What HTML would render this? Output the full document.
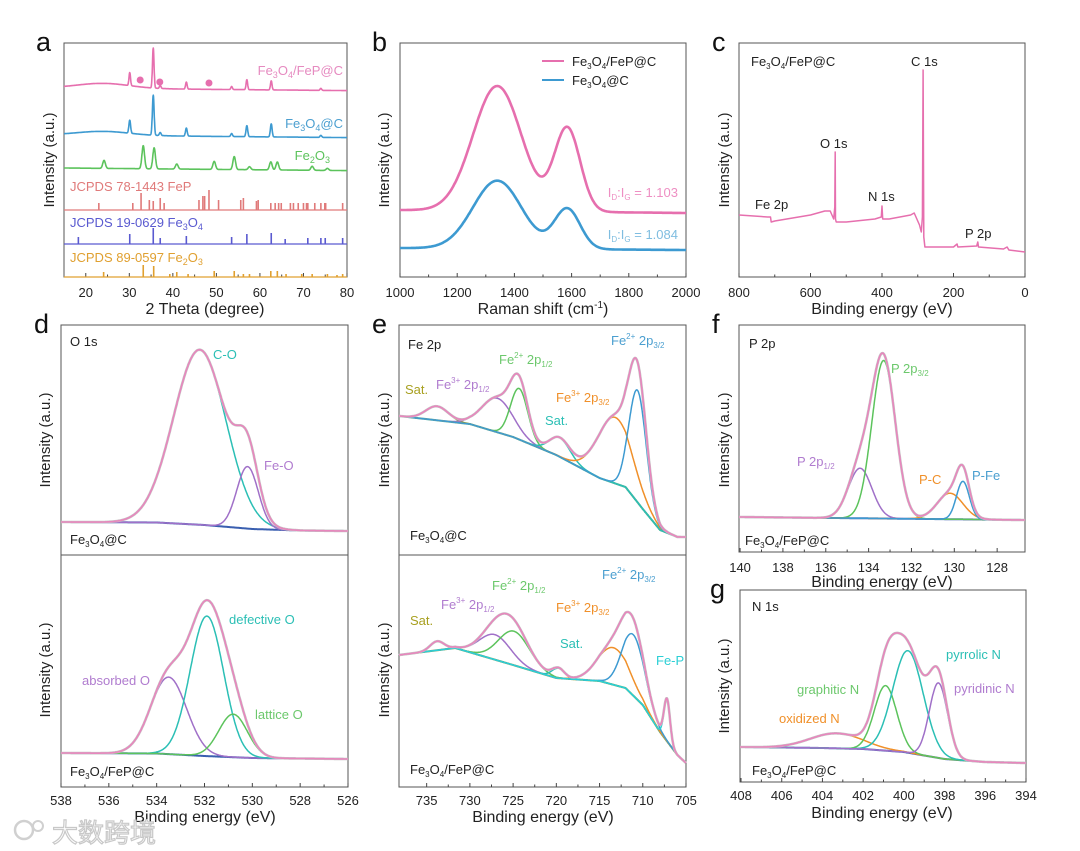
<!DOCTYPE html>
<html><head><meta charset="utf-8"><title>Figure</title>
<style>
html,body{margin:0;padding:0;background:#fff;}
svg{display:block;font-family:"Liberation Sans","Noto Sans CJK SC",sans-serif;}
.tl{font-size:13px;fill:#222;text-anchor:middle;}
.at{font-size:16px;fill:#222;text-anchor:middle;}
.yt{font-size:15px;fill:#222;text-anchor:middle;}
.pl{font-size:27px;fill:#111;}
.lb{font-size:13px;}
</style></head>
<body>
<svg id="fig" width="1080" height="851" viewBox="0 0 1080 851" xmlns="http://www.w3.org/2000/svg">
<rect x="0" y="0" width="1080" height="851" fill="#fff"/>
<text class="pl" x="36" y="51">a</text>
<text class="pl" x="372" y="51">b</text>
<text class="pl" x="712" y="51">c</text>
<text class="pl" x="34" y="333">d</text>
<text class="pl" x="372" y="333">e</text>
<text class="pl" x="712" y="333">f</text>
<text class="pl" x="710" y="598">g</text>

<text class="yt" transform="translate(54,160) rotate(-90)">Intensity (a.u.)</text>
<text class="yt" transform="translate(389,160) rotate(-90)">Intensity (a.u.)</text>
<text class="yt" transform="translate(729,160) rotate(-90)">Intensity (a.u.)</text>
<text class="yt" transform="translate(50,440) rotate(-90)">Intensity (a.u.)</text>
<text class="yt" transform="translate(50,670) rotate(-90)">Intensity (a.u.)</text>
<text class="yt" transform="translate(389,440) rotate(-90)">Intensity (a.u.)</text>
<text class="yt" transform="translate(389,670) rotate(-90)">Intensity (a.u.)</text>
<text class="yt" transform="translate(729,440) rotate(-90)">Intensity (a.u.)</text>
<text class="yt" transform="translate(729,686) rotate(-90)">Intensity (a.u.)</text>

<text class="at" x="205" y="314">2 Theta (degree)</text>
<text class="at" x="543" y="314">Raman shift (cm<tspan dy="-6" font-size="10">-1</tspan><tspan dy="6">)</tspan></text>
<text class="at" x="882" y="314">Binding energy (eV)</text>
<text class="at" x="205" y="822">Binding energy (eV)</text>
<text class="at" x="543" y="822">Binding energy (eV)</text>
<text class="at" x="882" y="587">Binding energy (eV)</text>
<text class="at" x="882" y="818">Binding energy (eV)</text>

<text class="lb" x="343" y="75" text-anchor="end" fill="#e68ac0" font-size="14">Fe<tspan font-size="9" dy="3">3</tspan><tspan dy="-3">O</tspan><tspan font-size="9" dy="3">4</tspan><tspan dy="-3">/FeP@C</tspan></text>
<text class="lb" x="343" y="128" text-anchor="end" fill="#4b9fd0" font-size="14">Fe<tspan font-size="9" dy="3">3</tspan><tspan dy="-3">O</tspan><tspan font-size="9" dy="3">4</tspan><tspan dy="-3">@C</tspan></text>
<text class="lb" x="330" y="160" text-anchor="end" fill="#5cc35c" font-size="14">Fe<tspan font-size="9" dy="3">2</tspan><tspan dy="-3">O</tspan><tspan font-size="9" dy="3">3</tspan></text>
<text class="lb" x="70" y="191" fill="#e07a7a" font-size="14">JCPDS 78-1443  FeP</text>
<text class="lb" x="70" y="227" fill="#5a5ad0" font-size="14">JCPDS 19-0629  Fe<tspan font-size="9" dy="3">3</tspan><tspan dy="-3">O</tspan><tspan font-size="9" dy="3">4</tspan></text>
<text class="lb" x="70" y="262" fill="#e0a030" font-size="14">JCPDS 89-0597 Fe<tspan font-size="9" dy="3">2</tspan><tspan dy="-3">O</tspan><tspan font-size="9" dy="3">3</tspan></text>

<line x1="542" y1="61" x2="564" y2="61" stroke="#e66fae" stroke-width="2"/>
<text class="lb" x="572" y="66" fill="#222">Fe<tspan font-size="8" dy="3">3</tspan><tspan dy="-3">O</tspan><tspan font-size="8" dy="3">4</tspan><tspan dy="-3">/FeP@C</tspan></text>
<line x1="542" y1="80" x2="564" y2="80" stroke="#3d9ad1" stroke-width="2"/>
<text class="lb" x="572" y="85" fill="#222">Fe<tspan font-size="8" dy="3">3</tspan><tspan dy="-3">O</tspan><tspan font-size="8" dy="3">4</tspan><tspan dy="-3">@C</tspan></text>
<text class="lb" x="678" y="197" text-anchor="end" fill="#ee8fc3">I<tspan font-size="8" dy="3">D</tspan><tspan dy="-3">:I</tspan><tspan font-size="8" dy="3">G</tspan><tspan dy="-3"> = 1.103</tspan></text>
<text class="lb" x="678" y="239" text-anchor="end" fill="#7fbde0">I<tspan font-size="8" dy="3">D</tspan><tspan dy="-3">:I</tspan><tspan font-size="8" dy="3">G</tspan><tspan dy="-3"> = 1.084</tspan></text>

<text class="lb" x="751" y="66" fill="#222">Fe<tspan font-size="8" dy="3">3</tspan><tspan dy="-3">O</tspan><tspan font-size="8" dy="3">4</tspan><tspan dy="-3">/FeP@C</tspan></text>
<text class="lb" x="911" y="66" fill="#222">C 1s</text>
<text class="lb" x="820" y="148" fill="#222">O 1s</text>
<text class="lb" x="868" y="201" fill="#222">N 1s</text>
<text class="lb" x="755" y="209" fill="#222">Fe 2p</text>
<text class="lb" x="965" y="238" fill="#222">P 2p</text>

<text class="lb" x="70" y="346" fill="#222">O 1s</text>
<text class="lb" x="213" y="359" fill="#2bbfb5">C-O</text>
<text class="lb" x="264" y="470" fill="#b07ccf">Fe-O</text>
<text class="lb" x="70" y="544" fill="#222">Fe<tspan font-size="8" dy="3">3</tspan><tspan dy="-3">O</tspan><tspan font-size="8" dy="3">4</tspan><tspan dy="-3">@C</tspan></text>
<text class="lb" x="229" y="624" fill="#2bbfb5">defective O</text>
<text class="lb" x="82" y="685" fill="#b07ccf">absorbed O</text>
<text class="lb" x="255" y="719" fill="#6cc86c">lattice O</text>
<text class="lb" x="70" y="776" fill="#222">Fe<tspan font-size="8" dy="3">3</tspan><tspan dy="-3">O</tspan><tspan font-size="8" dy="3">4</tspan><tspan dy="-3">/FeP@C</tspan></text>

<text class="lb" x="408" y="349" fill="#222">Fe 2p</text>
<text class="lb" x="611" y="345" fill="#4b9fd0">Fe<tspan font-size="8" dy="-6">2+</tspan><tspan dy="6"> 2p</tspan><tspan font-size="8" dy="3">3/2</tspan></text>
<text class="lb" x="499" y="364" fill="#6cc86c">Fe<tspan font-size="8" dy="-6">2+</tspan><tspan dy="6"> 2p</tspan><tspan font-size="8" dy="3">1/2</tspan></text>
<text class="lb" x="436" y="389" fill="#b07ccf">Fe<tspan font-size="8" dy="-6">3+</tspan><tspan dy="6"> 2p</tspan><tspan font-size="8" dy="3">1/2</tspan></text>
<text class="lb" x="405" y="394" fill="#a8a020">Sat.</text>
<text class="lb" x="556" y="402" fill="#f0902a">Fe<tspan font-size="8" dy="-6">3+</tspan><tspan dy="6"> 2p</tspan><tspan font-size="8" dy="3">3/2</tspan></text>
<text class="lb" x="545" y="425" fill="#2bbfb5">Sat.</text>
<text class="lb" x="410" y="540" fill="#222">Fe<tspan font-size="8" dy="3">3</tspan><tspan dy="-3">O</tspan><tspan font-size="8" dy="3">4</tspan><tspan dy="-3">@C</tspan></text>
<text class="lb" x="602" y="579" fill="#4b9fd0">Fe<tspan font-size="8" dy="-6">2+</tspan><tspan dy="6"> 2p</tspan><tspan font-size="8" dy="3">3/2</tspan></text>
<text class="lb" x="492" y="590" fill="#6cc86c">Fe<tspan font-size="8" dy="-6">2+</tspan><tspan dy="6"> 2p</tspan><tspan font-size="8" dy="3">1/2</tspan></text>
<text class="lb" x="441" y="609" fill="#b07ccf">Fe<tspan font-size="8" dy="-6">3+</tspan><tspan dy="6"> 2p</tspan><tspan font-size="8" dy="3">1/2</tspan></text>
<text class="lb" x="556" y="612" fill="#f0902a">Fe<tspan font-size="8" dy="-6">3+</tspan><tspan dy="6"> 2p</tspan><tspan font-size="8" dy="3">3/2</tspan></text>
<text class="lb" x="410" y="625" fill="#a8a020">Sat.</text>
<text class="lb" x="560" y="648" fill="#2bbfb5">Sat.</text>
<text class="lb" x="656" y="665" fill="#2bcfd5">Fe-P</text>
<text class="lb" x="410" y="774" fill="#222">Fe<tspan font-size="8" dy="3">3</tspan><tspan dy="-3">O</tspan><tspan font-size="8" dy="3">4</tspan><tspan dy="-3">/FeP@C</tspan></text>

<text class="lb" x="749" y="348" fill="#222">P 2p</text>
<text class="lb" x="891" y="373" fill="#6cc86c">P 2p<tspan font-size="8" dy="3">3/2</tspan></text>
<text class="lb" x="797" y="466" fill="#b07ccf">P 2p<tspan font-size="8" dy="3">1/2</tspan></text>
<text class="lb" x="919" y="484" fill="#f0902a">P-C</text>
<text class="lb" x="972" y="480" fill="#4b9fd0">P-Fe</text>
<text class="lb" x="745" y="545" fill="#222">Fe<tspan font-size="8" dy="3">3</tspan><tspan dy="-3">O</tspan><tspan font-size="8" dy="3">4</tspan><tspan dy="-3">/FeP@C</tspan></text>

<text class="lb" x="752" y="611" fill="#222">N 1s</text>
<text class="lb" x="946" y="659" fill="#2bbfb5">pyrrolic N</text>
<text class="lb" x="954" y="693" fill="#b07ccf">pyridinic N</text>
<text class="lb" x="797" y="694" fill="#6cc86c">graphitic N</text>
<text class="lb" x="779" y="723" fill="#f0902a">oxidized N</text>
<text class="lb" x="752" y="775" fill="#222">Fe<tspan font-size="8" dy="3">3</tspan><tspan dy="-3">O</tspan><tspan font-size="8" dy="3">4</tspan><tspan dy="-3">/FeP@C</tspan></text>

<g>
<circle cx="24" cy="830" r="9" fill="none" stroke="#d0d0d0" stroke-width="2.5"/>
<circle cx="38" cy="826" r="5" fill="none" stroke="#d0d0d0" stroke-width="2"/>
<text x="52" y="842" font-size="26" fill="#fff" stroke="#c8c8c8" stroke-width="1.2">大数跨境</text>
</g>
</svg>
<script>
// panel a (XRD), intensity units above axis bottom
const aTicks=[20,30,40,50,60,70,80];
const aPinkBase=189, aBlueBase=142, aGreenBase=109;
const aPinkPos=[30.1,35.5,37.1,43.1,53.5,57.0,62.6,74.0];
const aPinkH=[13,40,3,7,3,10,9,2];
const aBluePos=[30.1,35.5,37.1,43.1,53.5,57.0,62.6,74.0];
const aBlueH=[13,40,3,8,3,11,13,2];
const aGreenPos=[24.2,33.2,35.7,40.9,49.5,54.1,57.6,62.5,64.0,72.0,75.5];
const aGreenH=[8,23,21,5,8,13,3,8,8,4,2];
const aDotPos=[32.5,37.0,48.3];
const aDotU=[197,195,194];
const aFePPos=[23,30.8,32.7,34.6,35.5,37.1,38,46,46.9,47.3,48.3,50.5,55.6,56.2,59.2,59.6,62.5,63.5,64.3,64.9,67,67.7,68.8,70,70.7,71,72.6,74,74.9,75.1,79];
const aFePH=[7,7,17,10,9,12,7,10,14,14,20,10,10,12,9,10,7,7,7,7,7,7,7,7,7,7,7,7,7,7,7];
const aFe3O4Pos=[18.3,30.1,35.5,37.1,43.1,53.5,57,62.6,65.8,71,74,75,79];
const aFe3O4H=[7,10,16,6,8,7,10,11,5,6,6,6,6];
const aFe2O3Pos=[24.1,33.2,35.6,39.3,40.9,43.5,49.5,54.1,56.2,57.6,62.5,64,66,69.6,72,75.5,77.7,79];
const aFe2O3H=[5,12,11,3,5,3,6,6,3,3,6,6,3,3,3,3,2,3];
// panel b (Raman)
const bTicks=[1000,1200,1400,1600,1800,2000];
const bPeakPos=[1340,1585];
const bPeakSig=[85,45];
const bPinkBase=[67,64];
const bPinkAmp=[125,83];
const bBlueBase=[29,27];
const bBlueAmp=[68,40];
// panel c (survey)
const cTicks=[800,600,400,200,0];
const cE=[800,720,712,710,700,600,560,545,535,532,531,530,528,500,420,402,400,398,380,320,310,295,290,287,285,283,280,250,200,190,188,135,132,130,60,50,45,0];
const cU=[62,60,60,55,56,62,66,66,58,70,125,58,55,55,58,60,71,58,58,62,64,52,45,60,207,40,30,30,30,33,30,31,35,30,28,30,27,25];
// panel d (O 1s)
const dTicks=[538,536,534,532,530,528,526];
const dTopBgE=[538,534,532,530,528,526];
const dTopBgU=[33,32.5,30,26,24.5,24];
const dTopPos=[532.2,530.2];
const dTopAmp=[175,62];
const dTopSig=[1.1,0.45];
const dBotBgE=[538,534,532,530,526];
const dBotBgU=[34,33.5,31,29,28];
const dBotPos=[533.5,531.9,530.8];
const dBotAmp=[77,140,43];
const dBotSig=[0.75,0.7,0.6];
// panel e (Fe 2p)
const eTicks=[735,730,725,720,715,710,705];
const eTopBgE=[738.2,730,725,720,715,712,710,708,706,705];
const eTopBgU=[139,131,118,100,77,68,46,25,18,18];
const eTopPos=[733.8,726.8,724.3,719.6,713.2,710.6];
const eTopAmp=[14,34,51,19,66,112];
const eTopSig=[1.3,1.8,1.0,1.2,2.0,1.0];
const eBotBgE=[738.2,731.7,725,720,715,712,710,708,706,705];
const eBotBgU=[132,139,122,109,106,99,82,55,32,24];
const eBotPos=[733.8,727.1,724.9,719.8,713.4,711.1,707.2];
const eBotAmp=[9,25,34,10,37,61,42];
const eBotSig=[0.8,1.8,1.8,0.7,1.8,1.3,0.35];
// panel f (P 2p)
const fTicks=[140,138,136,134,132,130,128];
const fBgE=[140,126.7];
const fBgU=[35,32];
const fPos=[134.4,133.3,130.2,129.6];
const fAmp=[50,158,26,38];
const fSig=[0.55,0.55,0.6,0.3];
// panel g (N 1s)
const gTicks=[408,406,404,402,400,398,396,394];
const gBgE=[408,404,402,400,398,396,394];
const gBgU=[35,34,33,30,23,20,19];
const gPos=[403.3,400.9,399.8,398.3];
const gAmp=[15,65,102,75];
const gSig=[1.3,0.55,0.75,0.45];

const C={pink:'#e66fae',blue:'#3d9ad1',green:'#5cc35c',cyan:'#2bbfb5',purple:'#a070c8',orange:'#f0902a',olive:'#8f9a2a',bg:'#2aa9a0'};

const NS='http://www.w3.org/2000/svg';
const svg=document.getElementById('fig');
function lin(d0,d1,r0,r1){return v=>r0+(v-d0)*(r1-r0)/(d1-d0);}
function interp(xs,ys,x){
  for(let i=0;i<xs.length-1;i++){const a=xs[i],b=xs[i+1];
    if((x-a)*(x-b)<=0){const t=(x-a)/(b-a);return ys[i]+t*(ys[i+1]-ys[i]);}}
  return Math.abs(x-xs[0])<Math.abs(x-xs[xs.length-1])?ys[0]:ys[ys.length-1];
}
function gauss(x,c,h,s){return h*Math.exp(-(x-c)*(x-c)/(2*s*s));}
function curve(x0,x1,n,fn,sx,sy){
  let d='';
  for(let i=0;i<=n;i++){const x=x0+(x1-x0)*i/n;d+=(i?'L':'M')+sx(x).toFixed(1)+','+sy(fn(x)).toFixed(1);}
  return d;
}
function addPath(d,color,w){
  const p=document.createElementNS(NS,'path');
  p.setAttribute('d',d);p.setAttribute('fill','none');p.setAttribute('stroke',color);
  p.setAttribute('stroke-width',w);p.setAttribute('stroke-linejoin','round');
  svg.appendChild(p);return p;
}
function addLine(x1,y1,x2,y2,color,w){
  const l=document.createElementNS(NS,'line');
  l.setAttribute('x1',x1);l.setAttribute('y1',y1);l.setAttribute('x2',x2);l.setAttribute('y2',y2);
  l.setAttribute('stroke',color);l.setAttribute('stroke-width',w);svg.appendChild(l);return l;
}
function drawAxis(tag,x0,y0,x1,y1,sx,ticks,labY,divY){
  const r=document.createElementNS(NS,'rect');
  r.setAttribute('x',x0);r.setAttribute('y',y0);r.setAttribute('width',x1-x0);r.setAttribute('height',y1-y0);
  r.setAttribute('fill','none');r.setAttribute('stroke','#555');r.setAttribute('stroke-width','1');
  
  
  svg.appendChild(r);
  if(divY){
    const dl=addLine(x0,divY,x1,divY,'#555',1);
    
    
  }
  const step=ticks[1]-ticks[0];
  for(let i=0;i<ticks.length;i++){
    const x=sx(ticks[i]);
    const t=addLine(x,y1,x,y1-4,'#444',1);
    
    
    if(i<ticks.length-1){
      const xm=sx(ticks[i]+step/2);
      const tm=addLine(xm,y1,xm,y1-2.5,'#444',1);
      
      
    }
    const tx=document.createElementNS(NS,'text');
    tx.setAttribute('x',x);tx.setAttribute('y',labY);tx.setAttribute('class','tl');
    tx.textContent=ticks[i];
    
    
    svg.appendChild(tx);
  }
}

{
  const sx=lin(15,80,64,347), sy=u=>277-u;
  drawAxis('a',64,43,347,277,sx,aTicks,297);
  const traces=[[aPinkBase,aPinkPos,aPinkH,0.18,C.pink,5,'a-trace-fe3o4-fep-c'],[aBlueBase,aBluePos,aBlueH,0.2,C.blue,4,'a-trace-fe3o4-c'],[aGreenBase,aGreenPos,aGreenH,0.3,C.green,0,'a-trace-fe2o3']];
  for(const [base,pos,h,s,col,hump,nm] of traces){
    const fn=x=>{let v=base+gauss(x,24,hump,6)-(x-15)*0.04;for(let i=0;i<pos.length;i++)v+=gauss(x,pos[i],h[i],s);return v;};
    const p=addPath(curve(15,80,1300,fn,sx,sy),col,1.6);
    
    
  }
  for(let i=0;i<aDotPos.length;i++){
    const c=document.createElementNS(NS,'circle');
    c.setAttribute('cx',sx(aDotPos[i]));c.setAttribute('cy',sy(aDotU[i]));c.setAttribute('r',3.5);c.setAttribute('fill',C.pink);
    
    
    svg.appendChild(c);
  }
  const refs=[[aFePPos,aFePH,67,'#e07a7a','a-ref-fep'],[aFe3O4Pos,aFe3O4H,33,'#5a5ad0','a-ref-fe3o4'],[aFe2O3Pos,aFe2O3H,0,'#e0a030','a-ref-fe2o3']];
  for(const [pos,h,base,col,nm] of refs){
    const bl=addLine(64,sy(base),347,sy(base),col,1.2);
    
    
    for(let i=0;i<pos.length;i++){
      const st=addLine(sx(pos[i]),sy(base),sx(pos[i]),sy(base+h[i]),col,1.6);
      
      
    }
  }
}
{
  const sx=lin(1000,2000,400,686), sy=u=>277-u;
  drawAxis('b',400,43,686,277,sx,bTicks,297);
  const series=[[bPinkBase,bPinkAmp,C.pink,'b-trace-fe3o4-fep-c'],[bBlueBase,bBlueAmp,C.blue,'b-trace-fe3o4-c']];
  for(const [base,amp,col,nm] of series){
    const fn=x=>base[0]+(base[1]-base[0])*(x-1000)/1000+gauss(x,bPeakPos[0],amp[0],bPeakSig[0])+gauss(x,bPeakPos[1],amp[1],bPeakSig[1]);
    const p=addPath(curve(1000,2000,400,fn,sx,sy),col,2.6);
    
    
  }
}
{
  const sx=lin(800,0,739,1025), sy=u=>277-u;
  drawAxis('c',739,43,1025,277,sx,cTicks,297);
  let d='';
  for(let i=0;i<cE.length;i++)d+=(i?'L':'M')+sx(cE[i]).toFixed(1)+','+sy(cU[i]).toFixed(1);
  const p=addPath(d,C.pink,1.5);
  
  
}
function xps(tag,sx,bottom,x0,x1,bgE,bgU,pos,amp,sig,cols,bgCol,n){
  const bg=x=>interp(bgE,bgU,x), sy=u=>bottom-u;
  const pb=addPath(curve(x0,x1,n,bg,sx,sy),bgCol,2);
  
  
  for(let i=0;i<pos.length;i++){
    const p=addPath(curve(x0,x1,n,x=>bg(x)+gauss(x,pos[i],amp[i],sig[i]),sx,sy),cols[i],1.5);
    
    
  }
  const env=x=>{let v=bg(x);for(let i=0;i<pos.length;i++)v+=gauss(x,pos[i],amp[i],sig[i]);return v;};
  const pr=addPath(curve(x0,x1,n,env,sx,sy),'#c4c4c4',2.6);
  
  
  const pe=addPath(curve(x0,x1,n,env,sx,sy),'#e886bd',1.6);
  
  
}
{
  const sx=lin(538,526,61,348);
  drawAxis('d',61,325,348,787,sx,dTicks,805,555);
  xps('d-top',sx,555,538,526,dTopBgE,dTopBgU,dTopPos,dTopAmp,dTopSig,[C.cyan,C.purple],'#3a5fb0',600);
  xps('d-bottom',sx,787,538,526,dBotBgE,dBotBgU,dBotPos,dBotAmp,dBotSig,[C.purple,C.cyan,C.green],'#3a5fb0',600);
}
{
  const sx=lin(738.2,705,399,686);
  drawAxis('e',399,325,686,787,sx,eTicks,805,555);
  xps('e-top',sx,555,738.2,705,eTopBgE,eTopBgU,eTopPos,eTopAmp,eTopSig,[C.olive,C.purple,C.green,C.cyan,C.orange,C.blue],C.bg,660);
  xps('e-bottom',sx,787,738.2,705,eBotBgE,eBotBgU,eBotPos,eBotAmp,eBotSig,[C.olive,C.purple,C.green,C.cyan,C.orange,C.blue,'#2bcfd5'],'#7a9a30',660);
}
{
  const sx=lin(140.05,126.7,739,1025);
  drawAxis('f',739,325,1025,552,sx,fTicks,572);
  xps('f',sx,552,140.05,126.7,fBgE,fBgU,fPos,fAmp,fSig,[C.purple,C.green,C.orange,C.blue],'#3a5fb0',660);
}
{
  const sx=lin(408.05,394,740,1026);
  drawAxis('g',740,590,1026,782,sx,gTicks,800);
  xps('g',sx,782,408.05,394,gBgE,gBgU,gPos,gAmp,gSig,[C.orange,C.green,C.cyan,C.purple],'#3a5fb0',700);
}
</script>
</body></html>
